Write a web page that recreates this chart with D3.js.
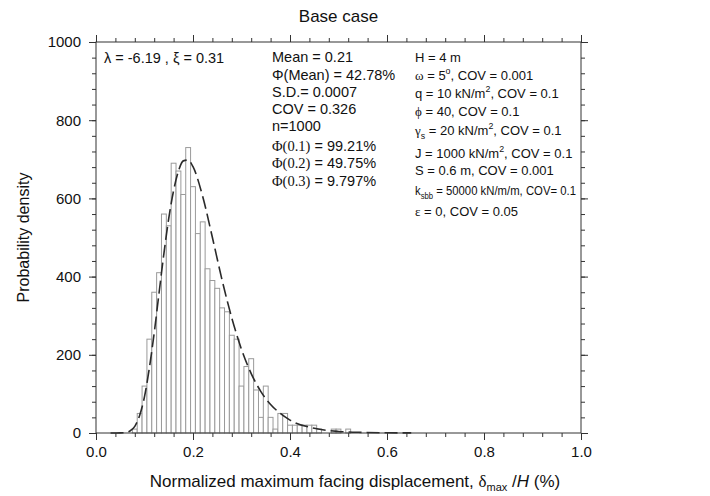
<!DOCTYPE html>
<html>
<head>
<meta charset="utf-8">
<script src="https://cdn.jsdelivr.net/npm/d3@7"></script>
<style>
  body { margin: 0; background: #fff; }
  svg { display: block; }
  text { font-family: "Liberation Sans", Arial, sans-serif; fill: #111; }
</style>
</head>
<body>
<svg id="chart" width="710" height="496"></svg>
<script>
// Histogram of normalized maximum facing displacement (%), bin width 0.01
const binWidth = 0.01;
const binCenters = [0.08, 0.09, 0.10, 0.11, 0.12, 0.13, 0.14, 0.15, 0.16, 0.17,
                    0.18, 0.19, 0.20, 0.21, 0.22, 0.23, 0.24, 0.25, 0.26, 0.27,
                    0.28, 0.29, 0.30, 0.31, 0.32, 0.33, 0.34, 0.35, 0.36, 0.37,
                    0.38, 0.39, 0.40, 0.41, 0.42, 0.43, 0.44, 0.45, 0.46, 0.49,
                    0.50, 0.52];
const binDensity = [10, 50, 120, 240, 360, 410, 560, 530, 690, 670,
                    610, 730, 630, 510, 540, 420, 390, 370, 320, 310,
                    250, 240, 120, 170, 190, 110, 40, 120, 40, 10,
                    50, 50, 20, 20, 20, 20, 20, 20, 10, 10,
                    10, 10];

// Fitted lognormal density (dashed curve)
const fitX = [0.03, 0.05, 0.06, 0.07, 0.08, 0.09, 0.10, 0.11, 0.12, 0.13, 0.14,
              0.15, 0.16, 0.17, 0.18, 0.19, 0.20, 0.22, 0.24, 0.26, 0.28,
              0.30, 0.32, 0.34, 0.36, 0.38, 0.40, 0.45, 0.50, 0.55, 0.60, 0.65];
const fitY = [0, 0.2, 1, 5, 17, 45, 93, 166, 256, 358, 459,
              549, 620, 670, 696, 698, 681, 605, 500, 391, 294,
              214, 152, 106, 73, 50, 33, 12, 4, 1.5, 0.5, 0.2];

const xTickValues = [0, 0.2, 0.4, 0.6, 0.8, 1.0];
const yTickValues = [0, 200, 400, 600, 800, 1000];

const titleText = "Base case";
const yTitle = "Probability density";

// Annotation lines; each segment: [text, kind] where kind is "", "serif", "sub" or "sup"
const fitLines = [
  [["λ = -6.19 , ξ = 0.31", ""]]
];
const statLines = [
  [["Mean = 0.21", ""]],
  [["Φ(Mean) = 42.78%", ""]],
  [["S.D.= 0.0007", ""]],
  [["COV = 0.326", ""]],
  [["n=1000", ""]],
  [["Φ(0.1)", "serif"], [" = 99.21%", ""]],
  [["Φ(0.2)", "serif"], [" = 49.75%", ""]],
  [["Φ(0.3)", "serif"], [" = 9.797%", ""]]
];
const paramLines = [
  [["H = 4 m", ""]],
  [["ω", "serif"], ["  = 5", ""], ["o", "sup"], [", COV = 0.001", ""]],
  [["q = 10 kN/m", ""], ["2", "sup"], [", COV = 0.1", ""]],
  [["ϕ", "serif"], ["  = 40, COV = 0.1", ""]],
  [["γ", "serif"], ["s", "sub"], [" = 20 kN/m", ""], ["2", "sup"], [", COV = 0.1", ""]],
  [["J = 1000 kN/m", ""], ["2", "sup"], [", COV = 0.1", ""]],
  [["S = 0.6 m, COV = 0.001", ""]],
  [["k", ""], ["sbb", "sub"], [" = 50000 kN/m/m, COV= 0.1", ""]],
  [["ε", "serif"], ["  = 0, COV = 0.05", ""]]
];

const svg = d3.select("#chart");
const plot = { left: 96, right: 581, top: 42, bottom: 433 };

const x = d3.scaleLinear().domain([0, 1]).range([plot.left, plot.right]);
const y = d3.scaleLinear().domain([0, 1000]).range([plot.bottom, plot.top]);

// Histogram bars
svg.append("g")
  .selectAll("rect")
  .data(binCenters.map((c, i) => ({ c, d: binDensity[i] })))
  .join("rect")
  .attr("x", d => x(d.c - binWidth / 2))
  .attr("width", d => x(d.c + binWidth / 2) - x(d.c - binWidth / 2))
  .attr("y", d => y(d.d))
  .attr("height", d => y(0) - y(d.d))
  .attr("fill", "#fff")
  .attr("stroke", "#9a9a9a")
  .attr("stroke-width", 1);

// Fitted curve
const line = d3.line()
  .x(d => x(d[0]))
  .y(d => y(d[1]))
  .curve(d3.curveMonotoneX);
svg.append("path")
  .datum(fitX.map((v, i) => [v, fitY[i]]))
  .attr("d", line)
  .attr("fill", "none")
  .attr("stroke", "#2a2a2a")
  .attr("stroke-width", 1.6)
  .attr("stroke-dasharray", "13,5");

// Axes: major and minor ticks on all four sides, pointing outward
const axisColor = "#333";
function styleAxis(g) {
  g.select(".domain").remove();
  g.selectAll(".tick line").attr("stroke", axisColor).attr("stroke-width", 1);
  g.selectAll(".tick text")
    .attr("font-family", '"Liberation Sans", Arial, sans-serif')
    .attr("font-size", 15)
    .attr("fill", "#111");
}
const xMinor = d3.range(0, 25).map(i => i * 0.04).concat([1.0]);
const yMinor = d3.range(0, 26).map(i => i * 40);

svg.append("g").attr("transform", `translate(0,${plot.bottom})`)
  .call(d3.axisBottom(x).tickValues(xMinor).tickSize(4).tickFormat(""))
  .call(styleAxis);
svg.append("g").attr("transform", `translate(0,${plot.bottom})`)
  .call(d3.axisBottom(x).tickValues(xTickValues).tickSize(7).tickPadding(6).tickFormat(d3.format(".1f")))
  .call(styleAxis);
svg.append("g").attr("transform", `translate(0,${plot.top})`)
  .call(d3.axisTop(x).tickValues(xMinor).tickSize(4).tickFormat(""))
  .call(styleAxis);
svg.append("g").attr("transform", `translate(0,${plot.top})`)
  .call(d3.axisTop(x).tickValues(xTickValues).tickSize(7).tickFormat(""))
  .call(styleAxis);

svg.append("g").attr("transform", `translate(${plot.left},0)`)
  .call(d3.axisLeft(y).tickValues(yMinor).tickSize(4).tickFormat(""))
  .call(styleAxis);
svg.append("g").attr("transform", `translate(${plot.left},0)`)
  .call(d3.axisLeft(y).tickValues(yTickValues).tickSize(7).tickPadding(8).tickFormat(d3.format("d")))
  .call(styleAxis);
svg.append("g").attr("transform", `translate(${plot.right},0)`)
  .call(d3.axisRight(y).tickValues(yMinor).tickSize(4).tickFormat(""))
  .call(styleAxis);
svg.append("g").attr("transform", `translate(${plot.right},0)`)
  .call(d3.axisRight(y).tickValues(yTickValues).tickSize(7).tickFormat(""))
  .call(styleAxis);

// Frame
svg.append("rect")
  .attr("x", plot.left).attr("y", plot.top)
  .attr("width", plot.right - plot.left).attr("height", plot.bottom - plot.top)
  .attr("fill", "none").attr("stroke", axisColor).attr("stroke-width", 1);

// Titles
svg.append("text")
  .attr("x", (plot.left + plot.right) / 2).attr("y", 22)
  .attr("text-anchor", "middle").attr("font-size", 17)
  .text(titleText);

svg.append("text")
  .attr("transform", `translate(29,${(plot.top + plot.bottom) / 2}) rotate(-90)`)
  .attr("text-anchor", "middle").attr("font-size", 16)
  .text(yTitle);

const xt = svg.append("text")
  .attr("x", 355).attr("y", 487)
  .attr("text-anchor", "middle").attr("font-size", 17);
xt.append("tspan").text("Normalized maximum facing displacement, ");
xt.append("tspan").attr("font-family", '"Liberation Serif", "Times New Roman", serif').text("δ");
xt.append("tspan").attr("font-size", 11).attr("dy", 4).text("max");
xt.append("tspan").attr("dy", -4).text(" /");
xt.append("tspan").attr("font-style", "italic").text("H");
xt.append("tspan").text(" (%)");

// Rich-text annotation blocks; lines wider than maxWidth are squeezed horizontally
function drawBlock(lines, x0, baselines, size, maxWidth) {
  lines.forEach((segs, i) => {
    const g = svg.append("g").attr("transform", `translate(${x0},${baselines[i]})`);
    const t = g.append("text").attr("x", 0).attr("y", 0).attr("font-size", size);
    let shift = 0;
    segs.forEach(([s, kind]) => {
      const sp = t.append("tspan").text(s);
      let target = 0;
      if (kind === "serif") {
        sp.attr("font-family", '"Liberation Serif", "Times New Roman", serif');
      } else if (kind === "sub") {
        sp.attr("font-size", size * 0.68);
        target = 4;
      } else if (kind === "sup") {
        sp.attr("font-size", size * 0.68);
        target = -6;
      }
      if (target !== shift) sp.attr("dy", target - shift);
      shift = target;
    });
    if (maxWidth) {
      const w = t.node().getComputedTextLength();
      if (w > maxWidth) t.attr("transform", `scale(${maxWidth / w},1)`);
    }
  });
}
drawBlock(fitLines, 104, [63], 14.5);
drawBlock(statLines, 272, [62, 80, 97, 114, 131, 151, 168, 186], 14.5);
drawBlock(paramLines, 415, [62, 80, 98, 116, 135, 158, 175, 195, 216], 13, plot.right - 415 - 5);
</script>
</body>
</html>
